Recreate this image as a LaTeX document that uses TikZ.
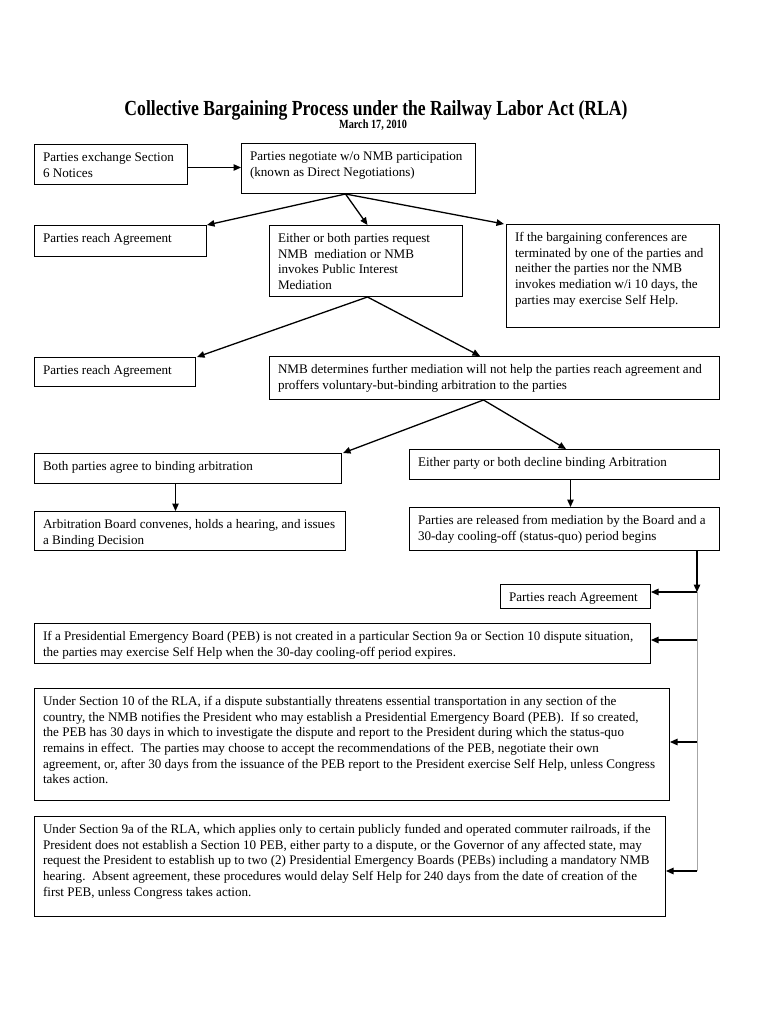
\documentclass[tikz,border=0pt]{standalone}
\usepackage{fontspec}
\setmainfont{Liberation Serif}
\newfontfamily\titlefont[FakeStretch=0.82]{Liberation Serif}
\usetikzlibrary{arrows.meta,calc}
\newcommand\bt[3]{\parbox[t][#2pt][t]{#1pt}{\leftskip=8.5pt\relax\vspace*{6pt}#3}}
\newcommand\lne[1]{\mbox{\strut#1}\par}
\begin{document}
\begin{tikzpicture}[x=1pt,y=-1pt,
  box/.style={draw, line width=1pt, inner sep=0pt, anchor=north west,
              font=\fontsize{13.1}{15.7}\selectfont},
  arr/.style={line width=1.3pt, -{Triangle[length=7.5pt,width=6.5pt]}},
  feed/.style={draw=gray!70, line width=0.8pt}]
\useasboundingbox (0,0) rectangle (768,1024);
\fill[white] (0,0) rectangle (768,1024);

\node[anchor=base] (title) at (376,116)
  {\titlefont\bfseries\fontsize{21.5}{24}\selectfont Collective Bargaining Process under the Railway Labor Act (RLA)};
\node[anchor=base] (date) at (373,129)
  {\titlefont\bfseries\fontsize{12.5}{14}\selectfont March 17, 2010};

\node[box] (b1) at (34,144) {\bt{153}{40}{\lne{Parties exchange Section}\lne{6 Notices}}};
\node[box] (b2) at (241,143) {\bt{234}{50}{\lne{Parties negotiate w/o NMB participation}\lne{(known as Direct Negotiations)}}};

\node[box] (b3) at (34,225) {\bt{172}{31}{\lne{Parties reach Agreement}}};
\node[box] (b4) at (269,225) {\bt{193}{71}{\lne{Either or both parties request}\lne{NMB\ \ mediation or NMB}\lne{invokes Public Interest}\lne{Mediation}}};
\node[box] (b5) at (506,224) {\bt{213}{103}{\lne{If the bargaining conferences are}\lne{terminated by one of the parties and}\lne{neither the parties nor the NMB}\lne{invokes mediation w/i 10 days, the}\lne{parties may exercise Self Help.}}};

\node[box] (b6) at (34,357) {\bt{161}{29}{\lne{Parties reach Agreement}}};
\node[box] (b7) at (269,356) {\bt{450}{43}{\lne{NMB determines further mediation will not help the parties reach agreement and}\lne{proffers voluntary-but-binding arbitration to the parties}}};

\node[box] (b8) at (34,453) {\bt{307}{30}{\lne{Both parties agree to binding arbitration}}};
\node[box] (b9) at (409,449) {\bt{310}{30}{\lne{Either party or both decline binding Arbitration}}};

\node[box] (b10) at (34,511) {\bt{311}{39}{\lne{Arbitration Board convenes, holds a hearing, and issues}\lne{a Binding Decision}}};
\node[box] (b11) at (409,507) {\bt{310}{43}{\lne{Parties are released from mediation by the Board and a}\lne{30-day cooling-off (status-quo) period begins}}};

\node[box] (b12) at (500,584) {\bt{150}{24}{\lne{Parties reach Agreement}}};
\node[box] (b13) at (34,623) {\bt{616}{40}{\lne{If a Presidential Emergency Board (PEB) is not created in a particular Section 9a or Section 10 dispute situation,}\lne{the parties may exercise Self Help when the 30-day cooling-off period expires.}}};
\node[box] (b14) at (34,688) {\bt{635}{112}{\lne{Under Section 10 of the RLA, if a dispute substantially threatens essential transportation in any section of the}\lne{country, the NMB notifies the President who may establish a Presidential Emergency Board (PEB).\ \ If so created,}\lne{the PEB has 30 days in which to investigate the dispute and report to the President during which the status-quo}\lne{remains in effect.\ \ The parties may choose to accept the recommendations of the PEB, negotiate their own}\lne{agreement, or, after 30 days from the issuance of the PEB report to the President exercise Self Help, unless Congress}\lne{takes action.}}};
\node[box] (b15) at (34,816) {\bt{631}{100}{\lne{Under Section 9a of the RLA, which applies only to certain publicly funded and operated commuter railroads, if the}\lne{President does not establish a Section 10 PEB, either party to a dispute, or the Governor of any affected state, may}\lne{request the President to establish up to two (2) Presidential Emergency Boards (PEBs) including a mandatory NMB}\lne{hearing.\ \ Absent agreement, these procedures would delay Self Help for 240 days from the date of creation of the}\lne{first PEB, unless Congress takes action.}}};

% connectors
\draw[arr] ([yshift=-3pt]b1.east) -- ([yshift=-3pt]b1.east -| b2.west);
\draw[arr] ([xshift=-13pt]b2.south) -- (b3.north east);
\draw[arr] ([xshift=-13pt]b2.south) -- ([xshift=1.5pt]b4.north);
\draw[arr] ([xshift=-13pt]b2.south) -- ([xshift=-2pt]b5.north west);
\draw[arr] ([xshift=1.5pt]b4.south) -- ([xshift=1pt]b6.north east);
\draw[arr] ([xshift=1.5pt]b4.south) -- ([xshift=211pt]b7.north west);
\draw[arr] ([xshift=-11pt]b7.south) -- ([xshift=1pt]b8.north east);
\draw[arr] ([xshift=-11pt]b7.south) -- ([xshift=157pt]b9.north west);
\draw[arr] ([xshift=-12.5pt]b8.south) -- ([xshift=-12.5pt]b8.south |- b10.north);
\draw[arr] ([xshift=6pt]b9.south) -- ([xshift=6pt]b9.south |- b11.north);

\coordinate (j1) at (697,592);
\coordinate (j2) at (697,640);
\coordinate (j3) at (697,742);
\coordinate (j4) at (697,871);
\draw[feed] (j1) -- (j4);
\draw[arr] (b11.south -| j1) -- (j1);
\draw[arr] (j1) -- (b12.east |- j1);
\draw[arr] (j2) -- (b13.east |- j2);
\draw[arr] (j3) -- (b14.east |- j3);
\draw[arr] (j4) -- (b15.east |- j4);
\end{tikzpicture}
\end{document}
